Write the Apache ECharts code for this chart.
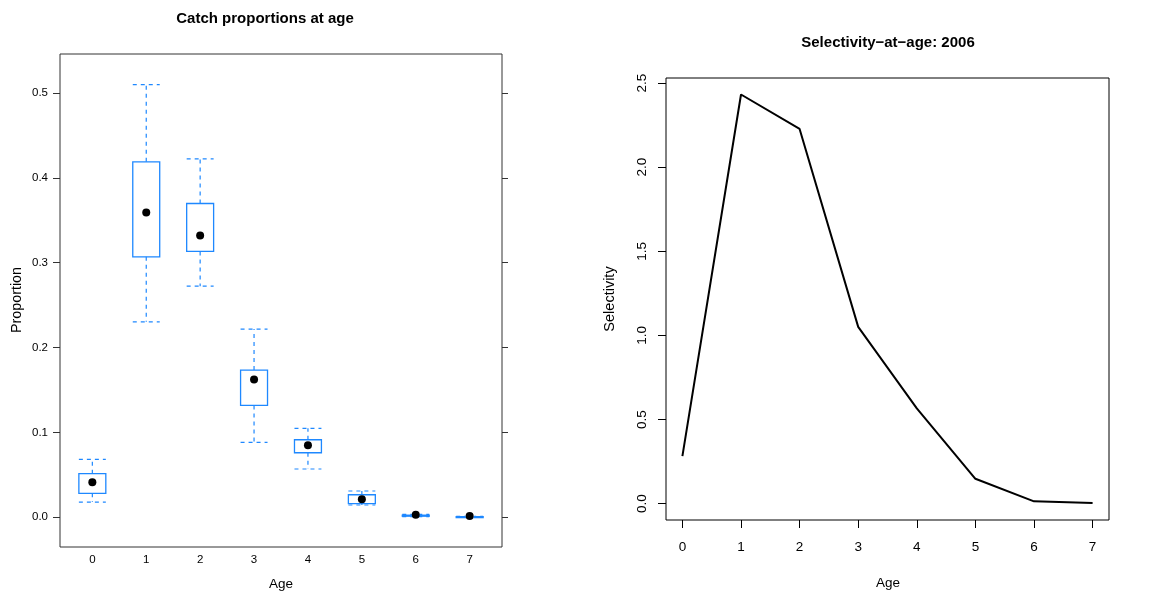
<!DOCTYPE html>
<html>
<head>
<meta charset="utf-8">
<script src="https://cdn.jsdelivr.net/npm/echarts@6/dist/echarts.min.js"></script>
<style>
  html, body { margin: 0; padding: 0; background: #fff; }
  #chart { width: 1173px; height: 597px; }
</style>
</head>
<body>
<div id="chart"></div>
<script>
// ages on both panels
var ages = [0, 1, 2, 3, 4, 5, 6, 7];

// catch proportions: [low whisker, q1, median, q3, high whisker]
var catchLow    = [0.018, 0.2304, 0.2724, 0.0883, 0.0569, 0.0145, 0.0008, 0.0001];
var catchQ1     = [0.0283, 0.307, 0.3133, 0.1319, 0.0761, 0.016, 0.0013, 0.0002];
var catchMedian = [0.0412, 0.3592, 0.3322, 0.1625, 0.0848, 0.0212, 0.003, 0.0015];
var catchQ3     = [0.0514, 0.4189, 0.3698, 0.1735, 0.0914, 0.0266, 0.0025, 0.0008];
var catchHigh   = [0.0683, 0.510, 0.4224, 0.2218, 0.1048, 0.031, 0.0035, 0.0012];
// outliers [age, value]
var catchOutliers = [[2, 0.2085], [6, 0.0048], [7, 0.0018]];

// selectivity 2006
var selectivity = [0.283, 2.432, 2.227, 1.051, 0.566, 0.148, 0.0137, 0.0036];

// tick labels
var leftYTicks  = [0, 0.1, 0.2, 0.3, 0.4, 0.5];
var rightYTicks = [0, 0.5, 1.0, 1.5, 2.0, 2.5];

var boxColor = '#1e88ff';
var font = 'Liberation Sans, Arial, Helvetica, sans-serif';

var boxData = ages.map(function (a, i) {
    return [a, catchLow[i], catchQ1[i], catchMedian[i], catchQ3[i], catchHigh[i]];
});

var myChart = echarts.init(document.getElementById('chart'), null, { renderer: 'canvas' });

function renderBox(params, api) {
    var x = api.value(0);
    var pLow = api.coord([x, api.value(1)]);
    var pQ1 = api.coord([x, api.value(2)]);
    var pQ3 = api.coord([x, api.value(4)]);
    var pHigh = api.coord([x, api.value(5)]);
    var half = api.size([0.5, 0])[0] / 2;
    var cx = pQ1[0];
    var dashed = { stroke: boxColor, lineWidth: 1.2, lineDash: [4, 4] };
    var solid = { stroke: boxColor, lineWidth: 1.3, fill: 'rgba(0,0,0,0)' };
    return {
        type: 'group',
        children: [
            { type: 'line', shape: { x1: cx, y1: pQ3[1], x2: cx, y2: pHigh[1] }, style: dashed },
            { type: 'line', shape: { x1: cx, y1: pQ1[1], x2: cx, y2: pLow[1] }, style: dashed },
            { type: 'line', shape: { x1: cx - half, y1: pHigh[1], x2: cx + half, y2: pHigh[1] }, style: dashed },
            { type: 'line', shape: { x1: cx - half, y1: pLow[1], x2: cx + half, y2: pLow[1] }, style: dashed },
            { type: 'rect', shape: { x: cx - half, y: Math.min(pQ1[1], pQ3[1]), width: half * 2, height: Math.max(1, Math.abs(pQ1[1] - pQ3[1])) }, style: solid }
        ]
    };
}

var option = {
    animation: false,
    backgroundColor: '#fff',
    textStyle: { fontFamily: font },
    grid: [
        { left: 60, top: 54, width: 442, height: 493, show: true, borderColor: '#333', borderWidth: 1, backgroundColor: 'transparent' },
        { left: 666, top: 78, width: 443, height: 442, show: true, borderColor: '#000', borderWidth: 1, backgroundColor: 'transparent' }
    ],
    xAxis: [
        {
            gridIndex: 0, type: 'value', min: -0.6, max: 7.6,
            axisLine: { show: false, onZero: false }, splitLine: { show: false },
            axisTick: { show: false },
            axisLabel: { customValues: ages, color: '#000', fontSize: 11.5, margin: 7, fontFamily: font }
        },
        {
            gridIndex: 1, type: 'value', min: -0.28, max: 7.28,
            axisLine: { show: false, onZero: false }, splitLine: { show: false },
            axisTick: { customValues: ages, length: 8, lineStyle: { color: '#000' } },
            axisLabel: { customValues: ages, color: '#000', fontSize: 13.5, margin: 20, fontFamily: font }
        }
    ],
    yAxis: [
        {
            gridIndex: 0, type: 'value', min: -0.035, max: 0.546,
            axisLine: { show: false, onZero: false }, splitLine: { show: false },
            axisTick: { customValues: leftYTicks, length: 7, lineStyle: { color: '#333' } },
            axisLabel: { customValues: leftYTicks, color: '#000', fontSize: 11.5, margin: 12, fontFamily: font,
                formatter: function (v) { return v.toFixed(1); } }
        },
        {
            gridIndex: 0, type: 'value', position: 'right', min: -0.035, max: 0.546,
            axisLine: { show: false, onZero: false }, splitLine: { show: false },
            axisTick: { customValues: leftYTicks, length: 6, lineStyle: { color: '#333' } },
            axisLabel: { show: false }
        },
        {
            gridIndex: 1, type: 'value', min: -0.097, max: 2.53,
            axisLine: { show: false, onZero: false }, splitLine: { show: false },
            axisTick: { customValues: rightYTicks, length: 8, lineStyle: { color: '#000' } },
            axisLabel: { customValues: rightYTicks, color: '#000', fontSize: 13.5, margin: 17, rotate: 90, fontFamily: font,
                formatter: function (v) { return v.toFixed(1); } }
        }
    ],
    graphic: [
        { type: 'text', x: 265, y: 19, style: { text: 'Catch proportions at age', font: 'bold 15px ' + font, fill: '#000', align: 'center', verticalAlign: 'middle' } },
        { type: 'text', x: 281, y: 584, style: { text: 'Age', font: '13.5px ' + font, fill: '#000', align: 'center', verticalAlign: 'middle' } },
        { type: 'text', x: 17, y: 300, rotation: Math.PI / 2, style: { text: 'Proportion', font: '14.3px ' + font, fill: '#000', align: 'center', verticalAlign: 'middle' } },
        { type: 'text', x: 888, y: 43, style: { text: 'Selectivity\u2212at\u2212age: 2006', font: 'bold 15px ' + font, fill: '#000', align: 'center', verticalAlign: 'middle' } },
        { type: 'text', x: 888, y: 583, style: { text: 'Age', font: '13.5px ' + font, fill: '#000', align: 'center', verticalAlign: 'middle' } },
        { type: 'text', x: 610, y: 299, rotation: Math.PI / 2, style: { text: 'Selectivity', font: '14.5px ' + font, fill: '#000', align: 'center', verticalAlign: 'middle' } }
    ],
    series: [
        {
            type: 'custom', xAxisIndex: 0, yAxisIndex: 0,
            renderItem: renderBox,
            encode: { x: 0, y: [1, 2, 3, 4, 5] },
            data: boxData
        },
        {
            type: 'scatter', xAxisIndex: 0, yAxisIndex: 0,
            symbol: 'emptyCircle', symbolSize: 6,
            itemStyle: { color: '#fff', borderColor: boxColor, borderWidth: 1.2, opacity: 1 },
            data: catchOutliers
        },
        {
            type: 'scatter', xAxisIndex: 0, yAxisIndex: 0,
            symbol: 'circle', symbolSize: 8,
            itemStyle: { color: '#000', opacity: 1 },
            data: ages.map(function (a, i) { return [a, catchMedian[i]]; })
        },
        {
            type: 'line', xAxisIndex: 1, yAxisIndex: 2,
            showSymbol: false, symbol: 'none',
            lineStyle: { color: '#000', width: 2 },
            data: ages.map(function (a, i) { return [a, selectivity[i]]; })
        }
    ]
};

myChart.setOption(option);
window.addEventListener('resize', function () { myChart.resize(); });
</script>
</body>
</html>
